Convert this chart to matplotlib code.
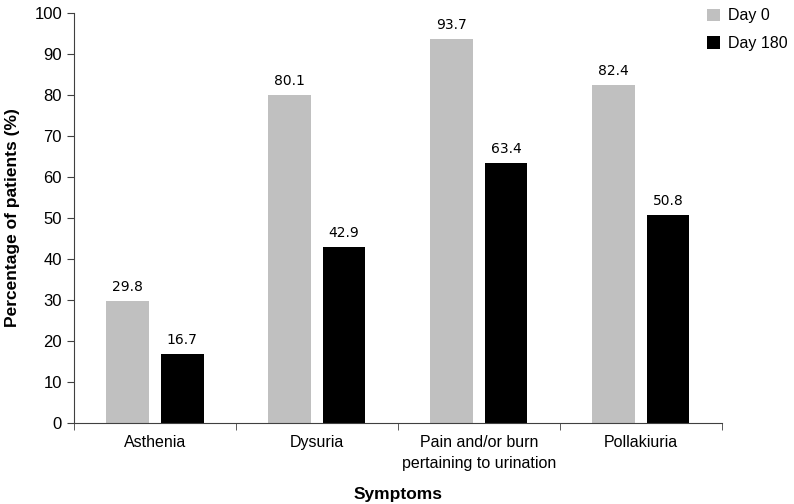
import numpy as np
import matplotlib.pyplot as plt

plt.rcParams['font.family'] = ['Liberation Sans', 'DejaVu Sans']

symptoms = ["Asthenia", "Dysuria", "Pain and/or burn\npertaining to urination", "Pollakiuria"]
day0 = [29.8, 80.1, 93.7, 82.4]
day180 = [16.7, 42.9, 63.4, 50.8]

fig = plt.figure(figsize=(7.94, 5.04), dpi=100)
ax = fig.add_axes([0.093, 0.161, 0.816, 0.813])

x = np.arange(len(symptoms))
w = 0.265
off = 0.168
b0 = ax.bar(x - off, day0, w, color="#c0c0c0", label="Day 0")
b1 = ax.bar(x + off, day180, w, color="#000000", label="Day 180")

# value labels above the bars
for bars, vals in [(b0, day0), (b1, day180)]:
    for r, v in zip(bars, vals):
        ax.text(r.get_x() + r.get_width() / 2, v + 1.7, f"{v:.1f}",
                ha="center", va="bottom", fontsize=10, family="DejaVu Sans")

ax.set_xlim(-0.5, len(symptoms) - 0.5)
ax.set_ylim(0, 100)
ax.set_yticks(range(0, 101, 10))
ax.set_xticks(x)
ax.set_xticklabels(symptoms, fontsize=11.5, linespacing=1.45)
ax.set_xticks(np.arange(-0.5, len(symptoms), 1), minor=True)
ax.tick_params(axis="x", which="major", length=0, pad=9)
ax.tick_params(axis="x", which="minor", length=5, direction="out", color="#404040")
ax.tick_params(axis="y", labelsize=12, length=5, color="#404040")
for s in ["top", "right"]:
    ax.spines[s].set_visible(False)
for s in ["left", "bottom"]:
    ax.spines[s].set_color("#404040")

ax.set_ylabel("Percentage of patients (%)", fontsize=12.5, fontweight="bold", labelpad=10)
ax.set_xlabel("Symptoms", fontsize=12.5, fontweight="bold", labelpad=12)

fig.legend(handles=[b0, b1], loc="upper left", bbox_to_anchor=(0.872, 1.012),
           frameon=False, fontsize=11.5, handlelength=0.8, handleheight=0.8,
           handletextpad=0.5, labelspacing=0.8)

fig.savefig("out.png", dpi=100)
